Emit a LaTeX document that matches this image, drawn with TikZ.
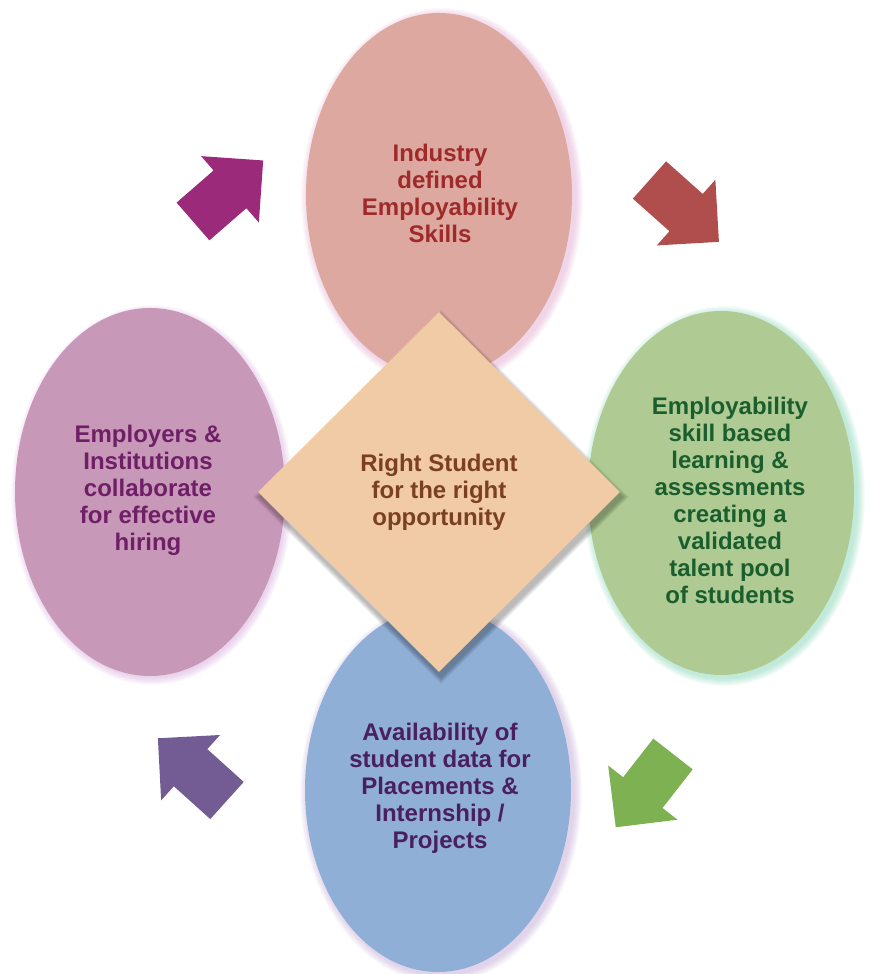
\documentclass[tikz,border=0pt]{standalone}
\usepackage{fontspec}
\setmainfont{Liberation Sans}
\usetikzlibrary{shapes.geometric}
\definecolor{topfill}{HTML}{DCA89F}
\definecolor{rightfill}{HTML}{AFCB93}
\definecolor{bottomfill}{HTML}{8FAFD6}
\definecolor{leftfill}{HTML}{C898B8}
\definecolor{diafill}{HTML}{F0CBA6}
\definecolor{toptext}{HTML}{9E2A2B}
\definecolor{righttext}{HTML}{1B5E2E}
\definecolor{bottomtext}{HTML}{4A1F60}
\definecolor{lefttext}{HTML}{6E1F66}
\definecolor{diatext}{HTML}{7B3F22}
\definecolor{glowtop}{HTML}{D890C0}
\definecolor{glowright}{HTML}{60C8A0}
\definecolor{glowbottom}{HTML}{B090C8}
\definecolor{glowleft}{HTML}{C890D0}
\definecolor{arrTL}{HTML}{9B2A7A}
\definecolor{arrTR}{HTML}{B04E4E}
\definecolor{arrBR}{HTML}{7DB152}
\definecolor{arrBL}{HTML}{735C94}
\tikzset{
  lbl/.style={font=\bfseries\fontsize{24}{27}\selectfont, align=center, inner sep=0pt},
  blob/.style={ellipse, minimum width=266pt, minimum height=364pt, inner sep=0pt, draw=none},
  blockarr/.pic={\path[pic actions] (0,-25) -- (49,-25) -- (49,-44) -- (93,0) -- (49,44) -- (49,25) -- (0,25) -- cycle;}
}
\begin{document}
\begin{tikzpicture}[x=1pt,y=1pt]
\useasboundingbox (0,0) rectangle (875,974);
% soft glows
\foreach \cx/\cy/\col in {442/776/glowtop, 724/478/glowright, 441/181/glowbottom, 152/479/glowleft}{
  \foreach \r in {1,...,8}{
    \fill[\col, opacity=0.06] (\cx,\cy) ellipse [x radius={133+\r}, y radius={182+\r}];
  }
}
% ellipses
\node[blob, fill=topfill] (top) at (439,779) {};
\node[blob, fill=rightfill] (right) at (721,481) {};
\node[blob, fill=bottomfill] (bottom) at (438,184) {};
\node[blob, fill=leftfill, minimum width=270pt, minimum height=368pt] (left) at (150,482) {};
% diamond shadow
\foreach \r in {1,...,7}{
  \fill[black, opacity=0.045] ({441-181-\r},477) -- (441,{477+180+\r}) -- ({441+181+\r},477) -- (441,{477-180-\r}) -- cycle;
}
\node[diamond, fill=diafill, minimum width=362pt, minimum height=360pt, inner sep=0pt] (dia) at (439,482) {};
% texts
\node[lbl, text=toptext] (ttop) at (440,781) {Industry\\defined\\Employability\\Skills};
\node[lbl, text=righttext] (tright) at (730,474) {Employability\\skill based\\learning \&\\assessments\\creating a\\validated\\talent pool\\of students};
\node[lbl, text=bottomtext] (tbottom) at (440,186) {Availability of\\student data for\\Placements \&\\Internship /\\Projects};
\node[lbl, text=lefttext] (tleft) at (148,484) {Employers \&\\Institutions\\collaborate\\for effective\\hiring};
\node[lbl, text=diatext] (tdia) at (439,482) {Right Student\\for the right\\opportunity};
% block arrows
\pic[fill=arrTL, rotate=41] at (193,752.5) {blockarr};
\pic[fill=arrTR, rotate=-41.7] at (649.5,794) {blockarr};
\pic[fill=arrBR, rotate=232] at (673,220) {blockarr};
\pic[fill=arrBL, rotate=138] at (227,173.5) {blockarr};
\end{tikzpicture}
\end{document}
